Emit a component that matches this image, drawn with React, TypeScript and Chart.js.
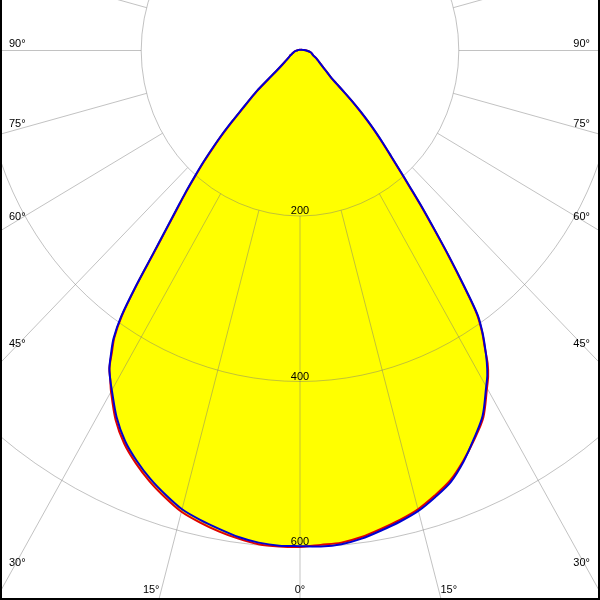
import React, { useEffect, useRef } from "react";
import { Chart, registerables } from "chart.js";

Chart.register(...registerables);

// Gamma angles (degrees from nadir)
const gammas = [0, 2.5, 5, 7.5, 10, 12.5, 15, 17.5, 20, 22.5, 25, 27.5, 30, 31, 32, 33, 34, 35, 36, 37, 38, 39, 40, 41, 42, 43, 44, 45, 46, 47, 48, 49, 50, 52, 55, 60, 65, 70, 80, 90, 100, 120, 150, 180];

// C0 (left) / C180 (right) plane — red, cd/klm
const redLeft = [600, 600, 599, 595, 590, 584, 577, 566, 554, 540, 524, 503, 476, 464, 453, 435, 418, 391, 349, 305, 272, 245, 223, 201, 181, 160, 140, 118, 98, 84, 71, 52, 40, 29, 22, 16, 13, 10, 7, 4, 2.5, 1.5, 1, 1];
const redRight = [599, 598, 597, 593, 587, 581, 574, 564, 553, 537, 519, 500, 471, 460, 446, 427, 410, 388, 349, 311, 275, 244, 214, 189, 169, 152, 136, 120, 104, 88, 72, 60, 51, 44, 36, 28, 23, 18, 14, 8, 4, 2, 1, 1];

// C90 (left) / C270 (right) plane — blue, cd/klm
const blueLeft = [599, 599, 597, 593, 587, 581, 574, 563, 551, 537, 521, 500, 474, 464, 453, 437, 420, 393, 351, 307, 274, 247, 225, 203, 183, 162, 142, 120, 100, 86, 73, 54, 41, 30, 22, 16, 13, 10, 7, 4, 2.5, 1.5, 1, 1];
const blueRight = [600, 600, 599, 595, 589, 583, 576, 566, 555, 538, 518, 498, 469, 458, 444, 428, 411, 390, 351, 313, 277, 246, 216, 191, 171, 154, 138, 122, 106, 90, 74, 61, 52, 44, 36, 28, 23, 18, 14, 8, 4, 2, 1, 1];

// Grid
const radialTicks = [200, 400, 600, 800];
const radialLabels = ["200", "400", "600"];
const gridStep = 15;
const gridOuter = 1500;

// View: pixel placement of the pole and (slightly anisotropic) scale
const W = 600;
const H = 600;
const poleX = 300;
const poleY = 50.5;
const pxPerUnitX = 0.794;
const pxPerUnitY = 0.8275;

const GRID_COLOR = "rgba(120,120,120,0.45)";
const FONT = "11px 'Liberation Sans', Arial, sans-serif";

function toPoints(left: number[], right: number[]) {
  const pts: { x: number; y: number }[] = [];
  for (let i = gammas.length - 1; i >= 0; i--) {
    const g = (gammas[i] * Math.PI) / 180;
    pts.push({ x: -left[i] * Math.sin(g), y: left[i] * Math.cos(g) });
  }
  for (let i = 1; i < gammas.length; i++) {
    const g = (gammas[i] * Math.PI) / 180;
    pts.push({ x: right[i] * Math.sin(g), y: right[i] * Math.cos(g) });
  }
  return pts;
}

const polarGrid = {
  id: "polarGrid",
  beforeDatasetsDraw(chart: any) {
    const { ctx, scales } = chart;
    const xs = scales.x;
    const ys = scales.y;
    const px = (v: number) => xs.getPixelForValue(v);
    const py = (v: number) => ys.getPixelForValue(v);
    const cx = px(0);
    const cy = py(0);
    ctx.save();
    ctx.strokeStyle = GRID_COLOR;
    ctx.lineWidth = 1;
    for (const t of radialTicks) {
      ctx.beginPath();
      ctx.ellipse(cx, cy, px(t) - cx, py(t) - cy, 0, 0, Math.PI * 2);
      ctx.stroke();
    }
    for (let a = 0; a < 360; a += gridStep) {
      const g = (a * Math.PI) / 180;
      const s = Math.sin(g);
      const c = Math.cos(g);
      const r0 = radialTicks[0];
      ctx.beginPath();
      ctx.moveTo(px(r0 * s), py(r0 * c));
      ctx.lineTo(px(gridOuter * s), py(gridOuter * c));
      ctx.stroke();
    }
    ctx.restore();
  },
  afterDatasetsDraw(chart: any) {
    const { ctx, scales } = chart;
    const xs = scales.x;
    const ys = scales.y;
    const cx = xs.getPixelForValue(0);
    const cy = ys.getPixelForValue(0);
    ctx.save();
    ctx.fillStyle = "#000";
    ctx.font = FONT;
    ctx.textBaseline = "alphabetic";
    ctx.textAlign = "center";
    radialLabels.forEach((lab, i) => {
      ctx.fillText(lab, cx, ys.getPixelForValue(radialTicks[i]) - 2);
    });
    for (let a = 0; a <= 90; a += gridStep) {
      for (const side of [-1, 1]) {
        if (a === 0 && side === 1) continue;
        const g = (a * Math.PI) / 180;
        const dx = Math.abs(xs.getPixelForValue(100 * Math.sin(g)) - cx);
        const dy = ys.getPixelForValue(100 * Math.cos(g)) - cy;
        const tx = dx > 1e-9 ? (side < 0 ? cx : W - cx) / dx : Infinity;
        const ty = dy > 1e-9 ? (H - cy) / dy : Infinity;
        const text = `${a}°`;
        if (ty < tx) {
          const xb = cx + side * dx * ((H - 7 - cy) / dy);
          ctx.textAlign = a === 0 ? "center" : side < 0 ? "right" : "left";
          ctx.fillText(text, xb + (a === 0 ? 0 : side * 1), H - 7);
        } else {
          const dist = (side < 0 ? cx : W - cx) - 12;
          const yAt = cy + (dx > 1e-9 ? dy * (dist / dx) : 0);
          ctx.textAlign = side < 0 ? "left" : "right";
          ctx.fillText(text, side < 0 ? 9 : W - 10, yAt - 4);
        }
      }
    }
    ctx.restore();
  },
  afterDraw(chart: any) {
    const { ctx } = chart;
    ctx.save();
    ctx.fillStyle = "#000";
    ctx.fillRect(0, 0, 2, H);
    ctx.fillRect(W - 2, 0, 2, H);
    ctx.fillRect(0, H - 2, W, 2);
    ctx.restore();
  },
};

export default function App() {
  const ref = useRef<HTMLCanvasElement | null>(null);
  useEffect(() => {
    if (!ref.current) return;
    const chart = new Chart(ref.current, {
      type: "scatter",
      data: {
        datasets: [
          {
            label: "C90 - C270",
            data: toPoints(blueLeft, blueRight),
            showLine: true,
            borderColor: "rgb(0,0,210)",
            backgroundColor: "#ffff00",
            borderWidth: 2,
            pointRadius: 0,
            tension: 0.3,
            fill: "shape",
          },
          {
            label: "C0 - C180",
            data: toPoints(redLeft, redRight),
            showLine: true,
            borderColor: "rgb(225,0,0)",
            backgroundColor: "#ffff00",
            borderWidth: 2,
            pointRadius: 0,
            tension: 0.3,
            fill: "shape",
          },
        ],
      },
      options: {
        animation: false,
        responsive: false,
        maintainAspectRatio: false,
        layout: { padding: 0 },
        scales: {
          x: {
            type: "linear",
            display: false,
            min: -poleX / pxPerUnitX,
            max: (W - poleX) / pxPerUnitX,
          },
          y: {
            type: "linear",
            display: false,
            reverse: true,
            min: -poleY / pxPerUnitY,
            max: (H - poleY) / pxPerUnitY,
          },
        },
        plugins: {
          legend: { display: false },
          tooltip: { enabled: false },
          filler: { drawTime: "beforeDatasetsDraw" },
        },
      } as any,
      plugins: [polarGrid],
    });
    return () => chart.destroy();
  }, []);
  return (
    <div style={{ position: "fixed", left: 0, top: 0, width: W, height: H, background: "#fff" }}>
      <canvas ref={ref} width={W} height={H} style={{ display: "block", width: W, height: H }} />
    </div>
  );
}
